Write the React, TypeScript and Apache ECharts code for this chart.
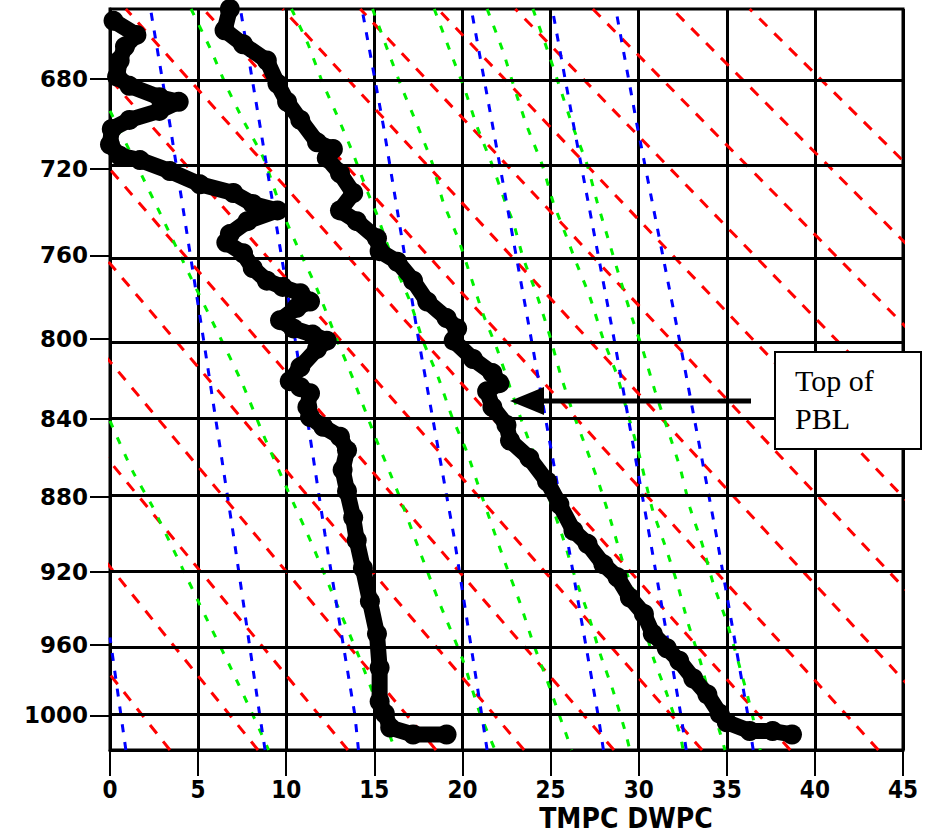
import React, { useEffect, useRef } from "react";
import * as echarts from "echarts";

// ---- Data (temperature °C, pressure hPa) ----
const pressureTicks = [680, 720, 760, 800, 840, 880, 920, 960, 1000];
const P_TOP = 650;
const P_BOTTOM = 1020;
const T_MIN = 0;
const T_MAX = 45;
const T_STEP = 5;

// dry adiabats (red): straight lines in this diagram, [T, p] endpoints
const dryAdiabats: number[][][] = [
  [[3.4, 1020], [-30.0, 650]],
  [[8.4, 1020], [-25.6, 650]],
  [[13.5, 1020], [-21.2, 650]],
  [[18.5, 1020], [-16.8, 650]],
  [[23.5, 1020], [-12.3, 650]],
  [[28.6, 1020], [-7.9, 650]],
  [[33.6, 1020], [-3.5, 650]],
  [[38.6, 1020], [0.9, 650]],
  [[43.6, 1020], [5.3, 650]],
  [[48.7, 1020], [9.8, 650]],
  [[53.7, 1020], [14.2, 650]],
  [[58.7, 1020], [18.6, 650]],
  [[63.8, 1020], [23.0, 650]],
  [[68.8, 1020], [27.4, 650]],
  [[73.8, 1020], [31.9, 650]],
  [[78.8, 1020], [36.3, 650]],
];

// mixing-ratio lines (blue)
const mixingLines: number[][][] = [
  [[0.9, 1020], [0.0, 956]],
  [[8.8, 1020], [8.5, 1000], [7.0, 900], [5.3, 800], [3.4, 700], [2.3, 650]],
  [[14.1, 1020], [13.9, 1000], [12.2, 900], [10.5, 800], [8.5, 700], [7.4, 650]],
  [[21.4, 1020], [21.1, 1000], [19.5, 900], [17.5, 800], [15.5, 700], [14.3, 650]],
  [[28.0, 1020], [27.7, 1000], [25.9, 900], [23.9, 800], [21.7, 700], [20.5, 650]],
  [[32.7, 1020], [32.4, 1000], [30.6, 900], [28.6, 800], [26.3, 700], [25.1, 650]],
  [[36.5, 1020], [36.2, 1000], [34.4, 900], [32.3, 800], [29.9, 700], [28.7, 650]],
];

// moist adiabats (green)
const moistLines: number[][][] = [
  [[0, 841], [1.3, 867], [2.4, 885], [3.9, 914], [5.4, 944], [6.9, 974], [8.3, 1004], [9.0, 1020]],
  [[0, 694], [1.5, 718], [3.0, 743], [4.5, 769], [6.0, 795], [7.5, 822], [8.7, 848], [10.1, 877], [11.5, 906], [12.8, 936], [14.1, 966], [15.3, 997], [16.2, 1020]],
  [[4.6, 650], [5.7, 667], [6.6, 683], [7.55, 698], [8.7, 715], [9.75, 739], [10.7, 757], [11.75, 776], [12.9, 801], [13.8, 820], [15.0, 848], [16.3, 877], [17.5, 907], [18.7, 937], [20.0, 968], [21.0, 999], [21.85, 1020]],
  [[10.3, 650], [11.24, 665], [12.03, 681], [12.94, 697], [13.79, 713], [14.64, 731], [15.15, 741], [16.17, 765], [17.03, 782], [17.76, 801], [18.62, 819], [19.41, 839], [20.26, 857], [21.0, 877], [21.74, 897], [22.53, 918], [23.27, 937], [24.01, 959], [24.8, 980], [25.54, 1001], [26.2, 1020]],
  [[14.9, 650], [15.78, 668], [16.57, 684], [17.42, 700], [18.27, 717], [18.9, 735], [19.75, 752], [20.43, 769], [21.17, 788], [21.96, 805], [22.7, 824], [23.44, 843], [24.23, 862], [24.97, 882], [25.71, 902], [26.39, 923], [27.13, 943], [27.81, 965], [28.55, 986], [29.23, 1009], [29.5, 1020]],
  [[18.4, 650], [19.3, 668], [20.15, 685], [20.83, 701], [21.68, 718], [22.42, 735], [22.9, 745], [23.44, 761], [24.23, 779], [24.97, 799], [25.54, 817], [26.28, 837], [27.07, 856], [27.81, 875], [28.49, 895], [29.11, 915], [29.91, 936], [30.82, 967], [31.61, 988], [32.35, 1011], [32.52, 1020]],
  [[21.4, 650], [22.3, 668], [22.99, 685], [23.67, 701], [24.52, 718], [25.14, 735], [25.94, 752], [26.39, 762], [27.24, 780], [27.98, 800], [28.77, 818], [29.4, 838], [29.97, 856], [30.76, 886], [31.5, 906], [32.18, 926], [32.8, 948], [33.49, 969], [34.05, 990], [34.73, 1014], [34.9, 1020]],
  [[24.0, 650], [24.8, 667], [25.54, 684], [26.22, 700], [27.07, 718], [27.64, 735], [28.26, 752], [28.94, 771], [29.63, 790], [30.25, 806], [30.93, 826], [31.67, 846], [32.35, 865], [32.92, 886], [33.6, 905], [34.22, 926], [35.02, 948], [35.58, 967], [36.21, 990], [36.78, 1014], [36.9, 1020]],
];

// observed temperature profile (TMPC)
const tmpcProfile: number[][] = [
  [6.8, 650], [6.5, 659], [7.55, 665], [8.9, 672], [9.5, 682], [10.05, 690], [10.8, 698], [11.75, 708],
  [12.65, 711], [12.3, 715], [13.05, 722], [13.8, 731], [13.05, 739], [14.0, 744], [15.15, 752], [15.3, 758],
  [16.3, 763], [17.2, 772], [18.0, 782], [19.1, 790], [19.7, 795], [19.5, 801], [20.6, 810], [21.7, 817],
  [22.1, 822], [21.4, 826], [21.7, 834], [22.5, 843], [22.7, 851], [23.8, 860], [24.8, 872], [25.5, 884],
  [26.3, 898], [27.1, 905], [28.0, 916], [28.8, 923], [29.5, 934], [30.3, 943], [30.8, 954], [31.6, 962],
  [32.3, 969], [33.1, 979], [33.9, 988], [34.6, 999], [35.0, 1004], [36.3, 1009], [37.6, 1009], [38.7, 1011],
];

// observed dewpoint profile (DWPC)
const dwpcProfile: number[][] = [
  [0.2, 655], [1.5, 661], [0.85, 666], [0.55, 672], [0.4, 679], [1.1, 683], [2.8, 688], [3.9, 690],
  [2.8, 694], [1.1, 698], [0.1, 702], [0.0, 709], [0.55, 714], [1.7, 716], [3.4, 721], [5.1, 727],
  [7.0, 731], [8.1, 736], [9.5, 739], [7.8, 744], [6.8, 750], [6.6, 754], [7.55, 759], [8.1, 766],
  [8.9, 772], [9.8, 775], [10.8, 778], [11.35, 782], [10.6, 785], [9.65, 791], [10.4, 795], [11.5, 798],
  [12.3, 801], [11.75, 805], [10.8, 814], [10.2, 821], [10.8, 824], [11.35, 827], [11.2, 834], [11.35, 839],
  [12.1, 844], [13.05, 849], [13.45, 856], [13.2, 866], [13.45, 877], [13.8, 891], [14.0, 903], [14.35, 918],
  [14.75, 936], [15.15, 954], [15.3, 973], [15.3, 992], [15.6, 999], [15.9, 1007], [17.2, 1011], [19.1, 1011],
];

const xAxisTitle = "TMPC DWPC";
const annotationLines = ["Top of", "PBL"];

// ---- helpers ----
const K = 0.286;
const toY = (p: number) => Math.pow(p, K);
const fromY = (v: number) => Math.pow(v, 1 / K);
const conv = (pts: number[][]) => pts.map(([t, p]) => [t, toY(p)]);

const labelFont = '"DejaVu Sans", sans-serif';
const narrowFont = '"DejaVu Sans Condensed", "DejaVu Sans", sans-serif';

export default function App() {
  const ref = useRef<HTMLDivElement>(null);

  useEffect(() => {
    if (!ref.current) return;
    const chart = echarts.init(ref.current, undefined, { renderer: "svg" });
    const tickVals = pressureTicks.map(toY);

    const series: any[] = [];
    series.push({
      type: "line",
      data: [],
      silent: true,
      z: 1,
      markLine: {
        silent: true,
        symbol: ["none", "none"],
        label: { show: false },
        lineStyle: { color: "#000", width: 3, type: "solid" },
        data: tickVals.map((v) => ({ yAxis: v })),
      },
    });
    dryAdiabats.forEach((ln) =>
      series.push({
        type: "line",
        data: conv(ln),
        showSymbol: false,
        silent: true,
        clip: true,
        z: 3,
        lineStyle: { color: "#ff0000", width: 3, type: [11, 10] },
      })
    );
    moistLines.forEach((ln) =>
      series.push({
        type: "line",
        data: conv(ln),
        showSymbol: false,
        silent: true,
        clip: true,
        smooth: 0.2,
        z: 3,
        lineStyle: { color: "#00f000", width: 3, type: [7, 11] },
      })
    );
    mixingLines.forEach((ln) =>
      series.push({
        type: "line",
        data: conv(ln),
        showSymbol: false,
        silent: true,
        clip: true,
        z: 3,
        lineStyle: { color: "#0000ff", width: 3, type: [8, 10] },
      })
    );
    [tmpcProfile, dwpcProfile].forEach((prof) =>
      series.push({
        type: "line",
        data: conv(prof),
        symbol: "circle",
        symbolSize: 20,
        showSymbol: true,
        silent: true,
        clip: false,
        z: 10,
        itemStyle: { color: "#000" },
        lineStyle: { color: "#000", width: 16, cap: "round", join: "round" },
      })
    );

    chart.setOption({
      animation: false,
      backgroundColor: "#fff",
      grid: {
        left: 110,
        right: 26,
        top: 9,
        bottom: 87,
        show: true,
        borderColor: "#000",
        borderWidth: 3,
        backgroundColor: "#fff",
      },
      xAxis: {
        type: "value",
        min: T_MIN,
        max: T_MAX,
        interval: T_STEP,
        axisLine: { show: true, lineStyle: { color: "#000", width: 3 } },
        axisTick: { show: true, length: 26, lineStyle: { color: "#000", width: 2 } },
        axisLabel: {
          margin: 28,
          color: "#000",
          fontFamily: narrowFont,
          fontWeight: "bold",
          fontSize: 24,
          lineHeight: 24,
        },
        splitLine: { show: true, lineStyle: { color: "#000", width: 3 } },
      },
      yAxis: {
        type: "value",
        inverse: true,
        min: toY(P_TOP),
        max: toY(P_BOTTOM),
        axisLine: { show: true, lineStyle: { color: "#000", width: 3 } },
        axisTick: {
          show: true,
          customValues: tickVals,
          length: 20,
          lineStyle: { color: "#000", width: 2 },
        },
        axisLabel: {
          customValues: tickVals,
          margin: 22,
          color: "#000",
          fontFamily: labelFont,
          fontWeight: "bold",
          fontSize: 23,
          formatter: (v: number) => String(Math.round(fromY(v))),
        },
        splitLine: { show: false },
      },
      graphic: [
        {
          type: "text",
          x: 626,
          y: 818,
          style: {
            text: xAxisTitle,
            fill: "#000",
            font: `bold 28px ${narrowFont}`,
            align: "center",
            verticalAlign: "middle",
          },
          z: 20,
        },
        {
          type: "line",
          shape: { x1: 541, y1: 401, x2: 751, y2: 401 },
          style: { stroke: "#000", lineWidth: 5 },
          z: 20,
        },
        {
          type: "polygon",
          shape: { points: [[510, 401], [544, 387], [544, 415]] },
          style: { fill: "#000" },
          z: 20,
        },
        {
          type: "rect",
          shape: { x: 775, y: 352, width: 146, height: 97 },
          style: { fill: "#fff", stroke: "#000", lineWidth: 2 },
          z: 20,
        },
        {
          type: "text",
          x: 795,
          y: 380,
          style: {
            text: annotationLines[0],
            fill: "#000",
            font: '30px "Liberation Serif", "DejaVu Serif", serif',
            verticalAlign: "middle",
          },
          z: 21,
        },
        {
          type: "text",
          x: 795,
          y: 418,
          style: {
            text: annotationLines[1],
            fill: "#000",
            font: '30px "Liberation Serif", "DejaVu Serif", serif',
            verticalAlign: "middle",
          },
          z: 21,
        },
      ],
      series,
    });

    return () => {
      chart.dispose();
    };
  }, []);

  return (
    <div
      ref={ref}
      style={{ position: "fixed", left: 0, top: 0, width: 929, height: 837, background: "#fff" }}
    />
  );
}
